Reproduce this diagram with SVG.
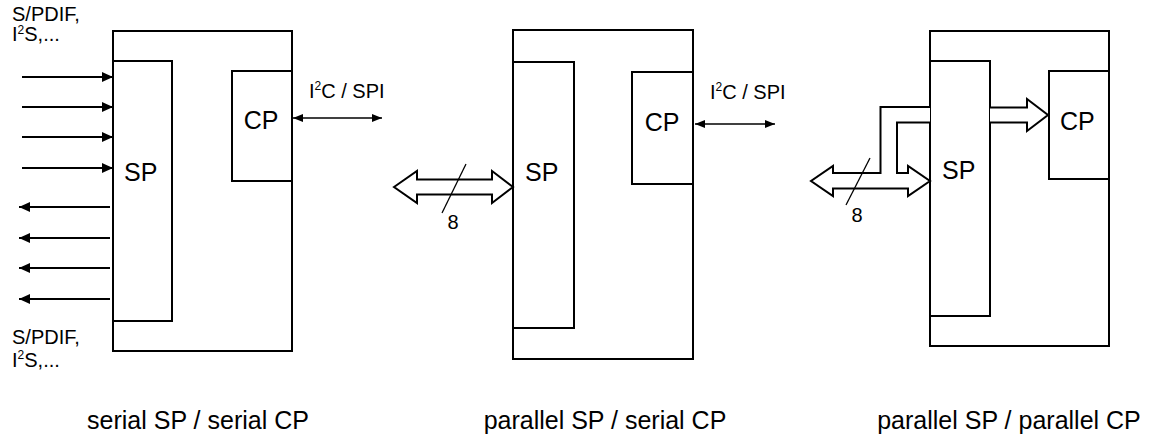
<svg xmlns="http://www.w3.org/2000/svg" width="1154" height="436" viewBox="0 0 1154 436">
<style>
  .box { fill: #fff; stroke: #000; stroke-width: 2; }
  .wire { fill: none; stroke: #000; stroke-width: 2; }
  .thin { fill: none; stroke: #000; stroke-width: 1.3; }
  .bus { fill: #fff; stroke: #000; stroke-width: 2; stroke-linejoin: miter; }
  .slash { stroke: #000; stroke-width: 1.3; }
  text { font-family: "Liberation Sans", Arial, sans-serif; fill: #000; }
  .big { font-size: 25px; }
  .small { font-size: 20px; }
</style>
<defs>
  <marker id="ah" markerUnits="userSpaceOnUse" markerWidth="12" markerHeight="10" refX="11" refY="5" orient="auto-start-reverse">
    <path d="M0,0 L11,5 L0,10 z" fill="#000"/>
  </marker>
  <marker id="ahs" markerUnits="userSpaceOnUse" markerWidth="11" markerHeight="9" refX="10" refY="4" orient="auto-start-reverse">
    <path d="M0,0 L10,4 L0,8 z" fill="#000"/>
  </marker>
</defs>

<!-- Diagram 1: serial SP / serial CP -->
<g id="d1-chip">
  <rect class="box" x="113" y="31" width="179" height="320"/>
</g>
<g id="d1-sp">
  <rect class="box" x="113" y="61" width="59" height="260"/>
  <text class="big" x="124" y="181">SP</text>
</g>
<g id="d1-cp">
  <rect class="box" x="232" y="71" width="60" height="110"/>
  <text class="big" x="261" y="129" text-anchor="middle">CP</text>
</g>
<g id="d1-labels">
  <text class="small"><tspan x="12" y="21">S/PDIF,</tspan><tspan x="12" y="41">I</tspan><tspan font-size="12" dy="-7">2</tspan><tspan dy="7">S,...</tspan></text>
  <text class="small"><tspan x="12" y="344">S/PDIF,</tspan><tspan x="12" y="367">I</tspan><tspan font-size="12" dy="-8">2</tspan><tspan dy="8">S,...</tspan></text>
  <text class="small" x="309" y="98">I<tspan font-size="12" dy="-8">2</tspan><tspan dy="8">C / SPI</tspan></text>
  <text class="big" x="198" y="429" text-anchor="middle">serial SP / serial CP</text>
</g>

<!-- Diagram 2: parallel SP / serial CP -->
<g id="d2-chip">
  <rect class="box" x="513" y="30" width="180" height="329"/>
</g>
<g id="d2-sp">
  <rect class="box" x="513" y="62" width="61" height="266"/>
  <text class="big" x="525" y="181">SP</text>
</g>
<g id="d2-cp">
  <rect class="box" x="632" y="72" width="61" height="112"/>
  <text class="big" x="662" y="131" text-anchor="middle">CP</text>
</g>
<g id="d2-labels">
  <text class="small" x="710" y="99">I<tspan font-size="12" dy="-8">2</tspan><tspan dy="8">C / SPI</tspan></text>
  <text class="small" x="453" y="229" text-anchor="middle">8</text>
  <text class="big" x="605" y="429" text-anchor="middle">parallel SP / serial CP</text>
</g>

<!-- Diagram 3: parallel SP / parallel CP -->
<g id="d3-chip">
  <rect class="box" x="930" y="31" width="179" height="315"/>
</g>
<g id="d3-sp">
  <rect class="box" x="930" y="61" width="60" height="255"/>
  <text class="big" x="942" y="179">SP</text>
</g>
<g id="d3-cp">
  <rect class="box" x="1049" y="71" width="60" height="108"/>
  <text class="big" x="1060" y="130">CP</text>
</g>
<g id="d3-labels">
  <text class="small" x="857" y="222" text-anchor="middle">8</text>
  <text class="big" x="1009" y="429" text-anchor="middle">parallel SP / parallel CP</text>
</g>

<!-- Connectors -->
<g id="connectors">
  <line class="wire" x1="22" y1="77" x2="113" y2="77" marker-end="url(#ah)"/>
  <line class="wire" x1="22" y1="107" x2="113" y2="107" marker-end="url(#ah)"/>
  <line class="wire" x1="22" y1="137" x2="113" y2="137" marker-end="url(#ah)"/>
  <line class="wire" x1="22" y1="168" x2="113" y2="168" marker-end="url(#ah)"/>
  <line class="wire" x1="110" y1="207" x2="19" y2="207" marker-end="url(#ah)"/>
  <line class="wire" x1="110" y1="238" x2="19" y2="238" marker-end="url(#ah)"/>
  <line class="wire" x1="110" y1="268" x2="19" y2="268" marker-end="url(#ah)"/>
  <line class="wire" x1="110" y1="299" x2="19" y2="299" marker-end="url(#ah)"/>
  <line class="thin" x1="293" y1="118" x2="382" y2="118" marker-start="url(#ahs)" marker-end="url(#ahs)"/>
  <line class="thin" x1="695" y1="124" x2="775" y2="124" marker-start="url(#ahs)" marker-end="url(#ahs)"/>
  <polygon class="bus" points="394,187 417,171 417,179.5 492,179.5 492,171 513,187 492,203 492,194.5 417,194.5 417,203"/>
  <line class="slash" x1="466" y1="164" x2="442" y2="213"/>
  <path class="bus" d="M930,107 L880.5,107 L880.5,173 L833,173 L833,166 L811,181 L833,196 L833,188.5 L908,188.5 L908,196 L930,181 L908,166 L908,173 L897,173 L897,122.5 L930,122.5"/>
  <line class="slash" x1="870" y1="158" x2="846" y2="205"/>
  <path class="bus" d="M990,107.5 L1027,107.5 L1027,99 L1048,115 L1027,131 L1027,122.5 L990,122.5"/>
</g>
</svg>
